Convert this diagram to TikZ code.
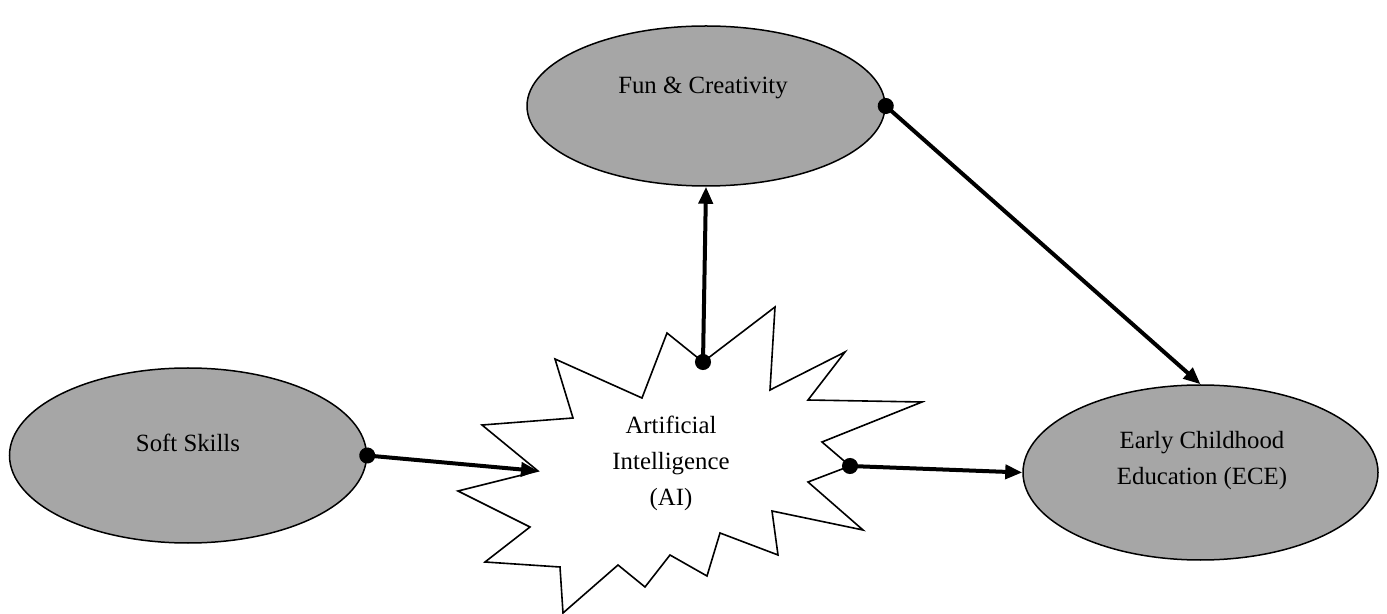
\documentclass[tikz,border=0pt]{standalone}
\usepackage{fontspec}
\setmainfont{Liberation Serif}
\usepackage{tikz}
\usetikzlibrary{arrows.meta}
\usetikzlibrary{shapes.geometric}
\definecolor{ovalgray}{HTML}{A6A6A6}

\begin{document}
\begin{tikzpicture}
          [x=0.5pt, y=-0.5pt,
           every node/.style={font=\fontsize{12.4}{18}\selectfont},
           oval/.style={draw, ellipse, fill=ovalgray, line width=0.75pt, inner sep=0pt},
           link/.style={line width=2pt, shorten <=-4pt,
             {Circle[length=8pt]}-{Triangle[length=8.5pt, width=7pt]}}]
          \useasboundingbox (0,0) rectangle (1387,614);

          \node (fun) [oval, minimum width=179pt, minimum height=80pt] at (706,106) {};
          \node (soft) [oval, minimum width=178.5pt, minimum height=87.5pt] at (188,455.5) {};
          \node (ece) [oval, minimum width=177.5pt, minimum height=87.5pt] at (1200.5,472.5) {};

          \node (funtext) at (703,88) {Fun \& Creativity};
          \node (softtext) at (188,443) {Soft Skills};
          \node (ecetext) [align=center] at (1202,461) {Early Childhood\\Education (ECE)};

          % the starburst round AI
          \draw[line width=0.8pt, fill=white]
            (703,362) coordinate (aitop) -- (775,307) -- (770,390) -- (845,352)
            -- (808,400) -- (922,402) -- (822,442) -- (850,466) coordinate (airight)
            -- (808,482) -- (863,530) -- (772,511) -- (778,555) -- (720,533)
            -- (707,576) -- (670,555) -- (645,587) -- (618,565) -- (563,613)
            -- (560,567) -- (485,562) -- (530,527) -- (458,491)
            -- (538,471) coordinate (aileft) -- (482,425) -- (573,418)
            -- (555,359) -- (642,398) -- (667,333) -- cycle;
          \node (ai) [align=center] at (671,463) {Artificial\\Intelligence\\(AI)};

          \draw[link] (soft.east) -- (aileft);
          \draw[link] (airight) -- (ece.west);
          \draw[link] (aitop) -- (fun.south);
          \draw[link] (fun.east) -- (ece.north);
\end{tikzpicture}
\end{document}
